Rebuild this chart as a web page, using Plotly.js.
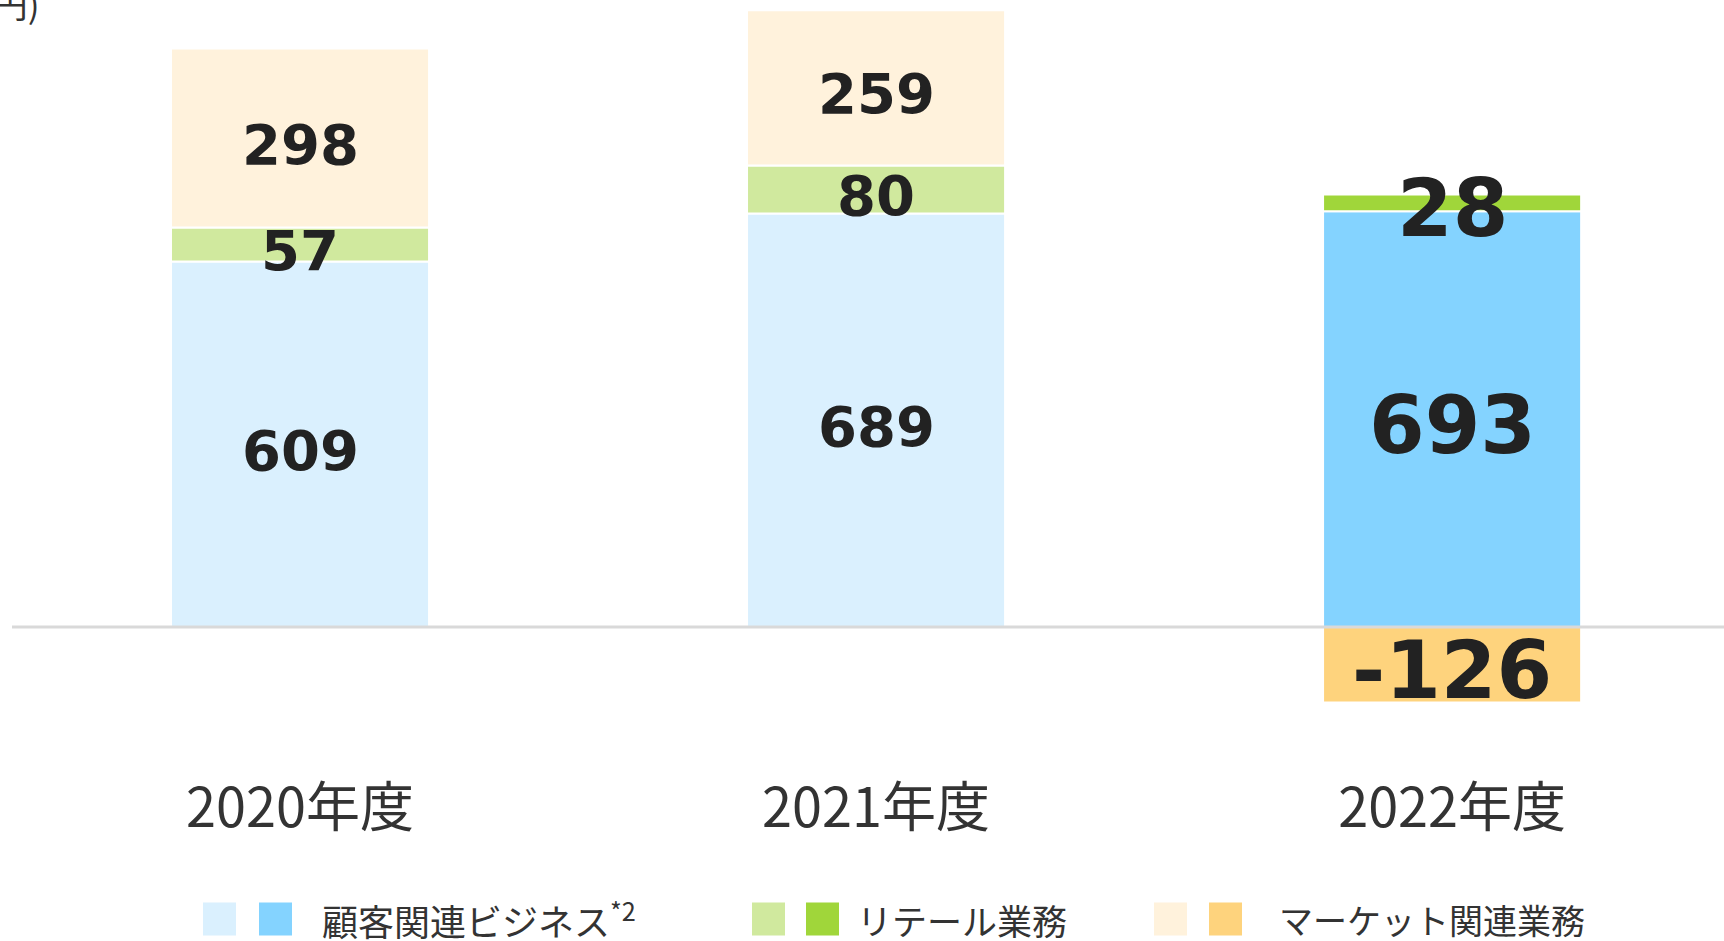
<!DOCTYPE html>
<html>
<head>
<meta charset="utf-8">
<script src="https://cdn.plot.ly/plotly-3.0.1.min.js"></script>
<style>html,body{margin:0;padding:0;background:#fff;}#chart{width:1724px;height:941px;}</style>
</head>
<body>
<div id="chart"></div>
<script>
// ---- data ----
const categories = ['2020年度', '2021年度', '2022年度'];
const customerValues = [609, 689, 693];
const retailValues = [57, 80, 28];
const marketValues = [298, 259, -126];
const seriesNames = ['顧客関連ビジネス<sup>*2</sup>', 'リテール業務', 'マーケット関連業務'];
const unitLabel = '(億円)';

// ---- styles ----
const lightColors = ['#DAF0FE', '#D0E99E', '#FFF2DC'];
const darkColors = ['#84D3FF', '#A0D63A', '#FED37D'];
const W = 1724, H = 941;
const M = {l: 12, r: 0, t: 0, b: 181};
const plotW = W - M.l - M.r, plotH = H - M.t - M.b;
const px2x = p => (p - M.l) / plotW;
const px2y = p => (M.t + plotH - p) / plotH;

const seriesValues = [customerValues, retailValues, marketValues];
const labelSizes = [56, 56, 80];

const traces = seriesValues.map((vals, i) => ({
  type: 'bar',
  x: categories,
  y: vals,
  name: seriesNames[i],
  width: 0.448,
  marker: {
    color: categories.map((c, j) => j === categories.length - 1 ? darkColors[i] : lightColors[i]),
    line: {color: '#ffffff', width: 2}
  },
  hoverinfo: 'none',
  showlegend: false
}));

const shapes = [{
  type: 'line', xref: 'paper', yref: 'y', x0: 0, x1: 1, y0: 0, y1: 0,
  line: {color: '#D9D9D9', width: 3}, layer: 'above'
}];
const annotations = [{
  text: unitLabel, xref: 'paper', yref: 'paper', x: 0, y: 1,
  xanchor: 'right', yanchor: 'bottom', xshift: 30, yshift: -30,
  showarrow: false, font: {family: 'Noto Sans CJK JP', size: 35, color: '#333333'}
}];

// value labels at the middle of each stacked segment
const posBase = categories.map(() => 0), negBase = categories.map(() => 0);
seriesValues.forEach(vals => {
  vals.forEach((v, j) => {
    let mid;
    if (v >= 0) { mid = posBase[j] + v / 2; posBase[j] += v; }
    else { mid = negBase[j] + v / 2; negBase[j] += v; }
    annotations.push({
      text: String(v), xref: 'x', yref: 'y', x: categories[j], y: mid,
      xanchor: 'center', yanchor: 'middle', yshift: -6, showarrow: false,
      font: {family: 'DejaVu Sans', size: j === categories.length - 1 ? labelSizes[2] : labelSizes[0], color: '#222222', weight: 'bold'}
    });
  });
});

// custom legend (two swatches per series)
const legendLight = [203, 752, 1154];
const legendDark = [259, 806, 1209];
const legendText = [320, 855, 1277];
const legendSizes = [36, 35, 34];
const sq = 33, legY = 919;
for (let i = 0; i < seriesNames.length; i++) {
  [[legendLight[i], lightColors[i]], [legendDark[i], darkColors[i]]].forEach(([x0, col]) => {
    shapes.push({
      type: 'rect', xref: 'paper', yref: 'paper',
      x0: px2x(x0), x1: px2x(x0 + sq), y0: px2y(legY + sq / 2), y1: px2y(legY - sq / 2),
      fillcolor: col, line: {width: 0}
    });
  });
  annotations.push({
    text: seriesNames[i], xref: 'paper', yref: 'paper',
    x: px2x(legendText[i]), y: px2y(legY), xanchor: 'left', yanchor: 'middle',
    showarrow: false, font: {family: 'Noto Sans CJK JP', size: legendSizes[i], color: '#333333'}
  });
}

const layout = {
  width: W, height: H,
  margin: M,
  paper_bgcolor: '#ffffff', plot_bgcolor: '#ffffff',
  barmode: 'relative',
  showlegend: false,
  xaxis: {
    type: 'category', range: [-0.5, 2.472],
    showgrid: false, showline: false, zeroline: false, ticks: '',
    ticklabelstandoff: 12,
    tickfont: {family: 'Noto Sans CJK JP', size: 54, color: '#333333'},
    fixedrange: true
  },
  yaxis: {
    range: [-221.7, 1045], visible: false, showgrid: false, zeroline: false, fixedrange: true
  },
  shapes: shapes,
  annotations: annotations
};

Plotly.newPlot('chart', traces, layout, {staticPlot: true, displayModeBar: false});
</script>
</body>
</html>
